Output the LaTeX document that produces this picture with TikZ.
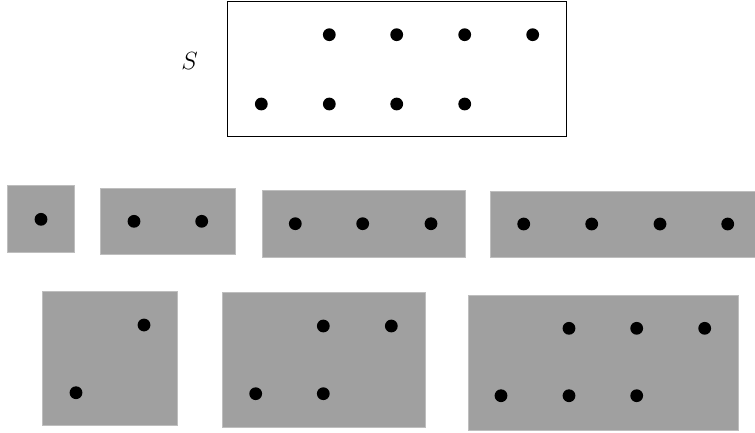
\documentclass[tikz,border=0pt]{standalone}
\begin{document}
\begin{tikzpicture}[x=1pt,y=-1pt,
  dotmark/.style={fill=black,draw=none},
  graybox/.style={fill=boxgray,draw=boxedge,line width=0.8pt},
  whitebox/.style={fill=white,draw=black,line width=1.1pt}]
\definecolor{boxgray}{RGB}{160,160,160}
\definecolor{boxedge}{RGB}{190,190,190}
\useasboundingbox (0,0) rectangle (755,432);
\newcommand{\dotat}[2]{\fill[dotmark] (#1,#2) circle (6.4);}
% top box
\draw[whitebox] (227.3,1.7) rectangle (566.7,136.7);
\node[font=\fontsize{32}{38}\selectfont] (S) at (189.5,60.5) {$S$};
\foreach \x in {329.3,396.7,464.7,532.7} {\dotat{\x}{34.7}}
\foreach \x in {261.3,329.3,396.7,464.7} {\dotat{\x}{104}}
% row 2
\draw[graybox] (7.3,185.7) rectangle (74.3,252.3);
\dotat{41}{219.3}
\draw[graybox] (100.7,188) rectangle (235.3,254.3);
\foreach \x in {134,201.7} {\dotat{\x}{221.3}}
\draw[graybox] (262.3,190.3) rectangle (465,257);
\foreach \x in {295.3,362.7,431} {\dotat{\x}{223.7}}
\draw[graybox] (490.7,191) rectangle (761,257.7);
\foreach \x in {523.7,591.7,660,727.7} {\dotat{\x}{224}}
% row 3
\draw[graybox] (42.7,291) rectangle (177.3,425.7);
\dotat{144}{325}
\dotat{76}{392.7}
\draw[graybox] (222.3,292.3) rectangle (425,427.3);
\foreach \x in {323.3,391.3} {\dotat{\x}{326}}
\foreach \x in {255.7,323.3} {\dotat{\x}{393.7}}
\draw[graybox] (468,295) rectangle (738.3,430);
\foreach \x in {569,636.7,704.7} {\dotat{\x}{328.3}}
\foreach \x in {501,569,636.7} {\dotat{\x}{395.7}}
\end{tikzpicture}
\end{document}
